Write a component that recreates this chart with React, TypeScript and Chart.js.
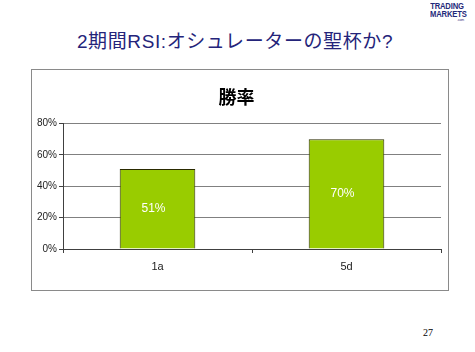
import React, { useEffect, useRef } from "react";
import { Chart, registerables } from "chart.js";

Chart.register(...registerables);

const categories = ["1a", "5d"];
const winRates = [51, 70];
const yTicks = [0, 20, 40, 60, 80];
const chartTitle = "勝率";
const slideTitle = "2期間RSI:オシュレーターの聖杯か?";
const pageNumber = "27";

const labelPlugin = {
  id: "barLabels",
  afterDatasetsDraw(chart: any) {
    const ctx = chart.ctx;
    const meta = chart.getDatasetMeta(0);
    ctx.save();
    ctx.fillStyle = "#ffffff";
    ctx.font = '12px "Liberation Sans", Arial, sans-serif';
    ctx.textAlign = "center";
    ctx.textBaseline = "middle";
    meta.data.forEach((bar: any, i: number) => {
      const y = (bar.y + bar.base) / 2;
      ctx.fillText(winRates[i] + "%", bar.x - 4, y);
    });
    ctx.restore();
  },
};

export default function App() {
  const ref = useRef<HTMLCanvasElement>(null);
  useEffect(() => {
    if (!ref.current) return;
    const chart = new Chart(ref.current, {
      type: "bar",
      data: {
        labels: categories,
        datasets: [
          {
            data: winRates,
            backgroundColor: "#99cc00",
            borderColor: "#2a2a00",
            borderWidth: 1,
            barPercentage: 0.4,
            categoryPercentage: 1,
          },
        ],
      },
      options: {
        animation: false,
        responsive: false,
        layout: { padding: { left: 0, right: 7, top: 0, bottom: 0 } },
        plugins: {
          legend: { display: false },
          tooltip: { enabled: false },
          title: {
            display: true,
            text: chartTitle,
            color: "#000000",
            font: { size: 18, weight: "bold", family: '"Noto Sans CJK JP", sans-serif', lineHeight: 1.2 },
            padding: { top: 16, bottom: 16 },
          },
        },
        scales: {
          x: {
            grid: {
              offset: true,
              drawOnChartArea: true,
              color: (c: any) => (c.index === categories.length ? "#808080" : "rgba(0,0,0,0)"),
              tickColor: "#404040",
              tickLength: 4,
            },
            border: { color: "#404040" },
            ticks: {
              color: "#222222",
              padding: 7,
              font: { size: 11, family: '"Liberation Sans", Arial, sans-serif' },
            },
            afterFit: (s: any) => {
              s.height = 41;
            },
          },
          y: {
            min: yTicks[0],
            max: yTicks[yTicks.length - 1],
            afterBuildTicks: (s: any) => {
              s.ticks = yTicks.map((v) => ({ value: v }));
            },
            grid: { color: "#808080", tickColor: "#404040", tickLength: 4 },
            border: { color: "#404040" },
            ticks: {
              color: "#222222",
              padding: 2,
              font: { size: 10, family: '"Liberation Sans", Arial, sans-serif' },
              callback: (v: any) => v + "%",
            },
            afterFit: (s: any) => {
              s.width = 31;
            },
          },
        },
      },
      plugins: [labelPlugin],
    });
    return () => chart.destroy();
  }, []);

  return (
    <div
      style={{
        position: "fixed",
        left: 0,
        top: 0,
        width: 475,
        height: 352,
        background: "#ffffff",
        overflow: "hidden",
      }}
    >
      <div
        style={{
          position: "absolute",
          left: 427,
          width: 40,
          top: 2,
          textAlign: "center",
          color: "#1f2a7a",
          fontFamily: '"Liberation Sans", Arial, sans-serif',
          fontWeight: "bold",
          fontSize: 9,
          lineHeight: "8px",
          transform: "scaleX(0.85)",
          letterSpacing: -0.2,
        }}
      >
        <div>TRADING</div>
        <div>MARKETS</div>
        <div style={{ fontSize: 4, lineHeight: "4px", textAlign: "right", fontWeight: "normal" }}>.com</div>
      </div>
      <div
        style={{
          position: "absolute",
          left: 0,
          width: 470,
          top: 30,
          height: 24,
          lineHeight: "24px",
          textAlign: "center",
          fontSize: 19,
          letterSpacing: 0.6,
          color: "#24247a",
          fontFamily: '"Liberation Sans", "Noto Sans CJK JP", sans-serif',
        }}
      >
        {slideTitle}
      </div>
      <div
        style={{
          position: "absolute",
          left: 31,
          top: 69,
          width: 418,
          height: 222,
          border: "1px solid #8a8a8a",
          boxSizing: "border-box",
        }}
      >
        <canvas ref={ref} width={416} height={220} style={{ display: "block" }} />
      </div>
      <div
        style={{
          position: "absolute",
          left: 423,
          top: 327,
          fontSize: 10,
          fontFamily: '"Liberation Serif", serif',
          color: "#000",
        }}
      >
        {pageNumber}
      </div>
    </div>
  );
}
